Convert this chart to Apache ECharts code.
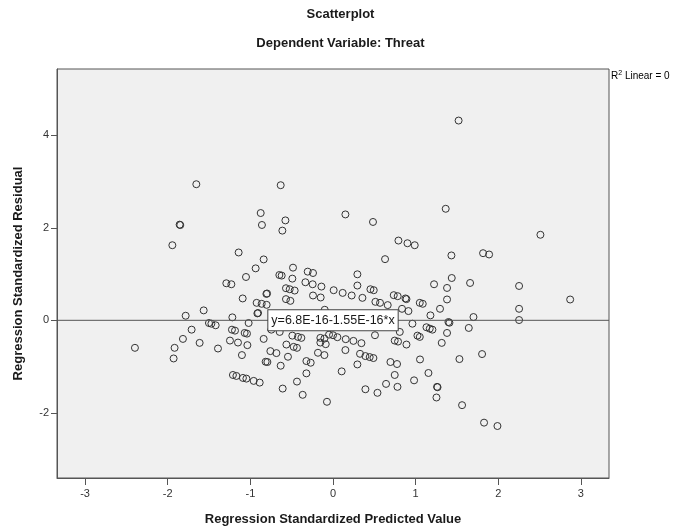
<!DOCTYPE html>
<html>
<head>
<meta charset="utf-8">
<script src="https://cdn.jsdelivr.net/npm/echarts@6/dist/echarts.min.js"></script>
<style>
html,body{margin:0;padding:0;background:#fff;}
#chart{width:681px;height:531px;}
</style>
</head>
<body>
<div id="chart"></div>
<script>
// Regression Standardized Predicted Value (x) and Regression Standardized Residual (y)
const predicted = [
-1.654,-0.633,-0.875,-1.856,-1.848,-0.860,-0.576,-0.613,-1.944,-1.142,
-0.839,-0.936,-0.484,-1.053,-0.649,-0.621,-0.492,-0.306,-0.242,-0.334,
-0.246,-0.140,-1.291,-1.230,-0.569,-0.524,-0.464,-0.242,-0.149,-1.093,
-0.806,-0.798,-0.569,-0.516,-0.924,-0.863,-0.803,-1.565,-1.783,-1.218,
-0.915,-0.907,-0.100,0.150,0.484,1.364,0.792,0.901,0.989,0.630,
1.433,1.816,1.889,0.295,0.295,1.437,1.223,1.380,1.659,2.252,
0.008,0.117,0.226,0.356,0.453,0.493,0.735,0.783,0.877,0.889,
1.050,1.086,1.380,1.295,0.513,0.569,0.662,0.835,0.913,2.252,
1.179,1.700,-1.501,-1.472,-1.420,-1.711,-1.223,-1.186,-1.021,-1.069,
-1.041,-1.816,-1.614,-1.247,-1.150,-1.036,-0.839,-2.397,-1.917,-1.929,
-1.392,-1.102,-0.758,-0.685,-0.815,-0.794,-0.633,-0.545,-0.564,-0.476,
-0.436,-0.492,-0.424,-0.383,-0.322,-0.270,-0.322,-0.436,-0.609,-0.367,
-0.073,-0.182,-0.104,-0.153,-0.088,-0.048,-1.211,-1.169,-1.090,-1.048,
-0.960,-0.887,-0.746,-0.645,0.961,1.397,1.409,1.643,1.131,1.171,
1.203,1.380,0.508,0.808,1.022,1.050,0.747,0.787,0.889,1.316,
0.154,0.247,0.344,0.150,-0.153,-0.104,0.000,0.053,0.327,0.392,
0.444,0.489,0.295,0.105,0.695,0.775,1.053,1.530,1.804,1.155,
0.747,0.981,0.642,0.780,0.392,0.538,1.259,1.265,1.252,1.562,
1.828,1.990,2.252,1.520,2.510,2.870
];
const residual = [
2.943,2.922,2.320,2.069,2.060,2.062,2.161,1.940,1.624,1.467,
1.317,1.124,1.139,0.937,0.980,0.967,0.902,1.053,1.023,0.823,
0.780,0.730,0.801,0.780,0.694,0.672,0.644,0.537,0.494,0.473,
0.571,0.580,0.458,0.421,0.378,0.357,0.335,0.215,0.099,0.064,
0.150,0.158,0.228,2.290,2.127,2.412,1.725,1.667,1.624,1.323,
1.403,1.452,1.424,0.995,0.752,0.915,0.780,0.700,0.808,0.743,
0.651,0.593,0.537,0.486,0.672,0.651,0.544,0.522,0.473,0.458,
0.378,0.357,0.451,0.249,0.400,0.378,0.329,0.249,0.200,0.249,
0.107,0.071,-0.058,-0.073,-0.107,-0.202,-0.202,-0.223,-0.058,-0.273,
-0.288,-0.402,-0.488,-0.438,-0.481,-0.537,-0.402,-0.595,-0.595,-0.825,
-0.610,-0.752,-0.666,-0.709,-0.896,-0.902,-0.982,-0.788,-0.524,-0.574,
-0.595,-0.331,-0.359,-0.380,-0.881,-0.917,-1.147,-1.325,-1.476,-1.611,
-1.762,-0.702,-0.752,-0.481,-0.516,-0.309,-1.182,-1.203,-1.246,-1.261,
-1.310,-1.347,-0.202,-0.251,-0.073,-0.037,-0.052,-0.165,-0.150,-0.180,
-0.202,-0.273,-0.322,-0.251,-0.331,-0.359,-0.438,-0.460,-0.524,-0.488,
-0.408,-0.445,-0.494,-0.644,-0.380,-0.395,-0.322,-0.365,-0.724,-0.773,
-0.795,-0.816,-0.954,-1.104,-0.902,-0.945,-0.846,-0.838,-0.730,-1.139,
-1.182,-1.298,-1.375,-1.439,-1.491,-1.568,-1.439,-1.447,-1.669,-1.835,
-2.213,-2.286,0.006,4.320,1.850,0.450
];
const xTicks = [-3,-2,-1,0,1,2,3];
const yTicks = [-2,0,2,4];
const fitIntercept = 6.8e-16;
const fitSlope = -1.55e-16;
const fitLabel = 'y=6.8E-16-1.55E-16*x';
const r2Label = 'Linear = 0';

const xMin = -3.34, xMax = 3.34, yMin = -3.41, yMax = 5.435;
const FONT = '"Liberation Sans", Arial, sans-serif';

const points = predicted.map((v, i) => [v, residual[i]]);
const fitLine = [[xMin, fitIntercept + fitSlope * xMin], [xMax, fitIntercept + fitSlope * xMax]];

const chart = echarts.init(document.getElementById('chart'), null, {renderer: 'canvas'});
chart.setOption({
  animation: false,
  backgroundColor: '#ffffff',
  title: [
    {text: 'Scatterplot', left: 'center', top: 8, padding: 0,
     textStyle: {fontFamily: FONT, fontSize: 13, fontWeight: 'bold', color: '#1a1a1a'}},
    {text: 'Dependent Variable: Threat', left: 'center', top: 37, padding: 0,
     textStyle: {fontFamily: FONT, fontSize: 13, fontWeight: 'bold', color: '#1a1a1a'}}
  ],
  grid: {left: 57, top: 69, width: 552, height: 412, show: true,
         backgroundColor: '#f0f0f0', borderColor: '#555', borderWidth: 1},
  xAxis: {
    type: 'value', min: xMin, max: xMax,
    name: 'Regression Standardized Predicted Value', nameLocation: 'middle', nameGap: 35,
    nameTextStyle: {fontFamily: FONT, fontSize: 13, fontWeight: 'bold', color: '#1a1a1a'},
    axisLine: {show: true, onZero: false, lineStyle: {color: '#555'}},
    axisTick: {show: true, length: 7, customValues: xTicks, lineStyle: {color: '#555'}},
    axisLabel: {customValues: xTicks, margin: 10, fontFamily: FONT, fontSize: 11, color: '#333'},
    splitLine: {show: false}
  },
  yAxis: {
    type: 'value', min: yMin, max: yMax,
    name: 'Regression Standardized Residual', nameLocation: 'middle', nameGap: 32, nameRotate: 90,
    nameTextStyle: {fontFamily: FONT, fontSize: 13, fontWeight: 'bold', color: '#1a1a1a'},
    axisLine: {show: true, onZero: false, lineStyle: {color: '#555'}},
    axisTick: {show: true, length: 6, customValues: yTicks, lineStyle: {color: '#555'}},
    axisLabel: {customValues: yTicks, margin: 8, fontFamily: FONT, fontSize: 11, color: '#333'},
    splitLine: {show: false}
  },
  series: [
    {
      type: 'scatter', data: points, symbol: 'circle', symbolSize: 7, z: 2,
      itemStyle: {color: 'rgba(0,0,0,0)', borderColor: '#333', borderWidth: 1, opacity: 1},
      silent: true
    },
    {
      type: 'line', data: fitLine, symbol: 'none', z: 3, silent: true,
      lineStyle: {color: '#555', width: 1},
      markPoint: {
        symbol: 'rect', symbolSize: 0, silent: true,
        data: [{coord: [0, fitIntercept]}],
        label: {
          show: true, position: 'inside', formatter: fitLabel,
          fontFamily: FONT, fontSize: 12.5, color: '#1a1a1a',
          backgroundColor: '#ffffff', borderColor: '#444', borderWidth: 1,
          padding: [4, 3, 3, 3]
        }
      }
    }
  ],
  graphic: [
    {type: 'text', left: 611, top: 70, silent: true,
     style: {
       text: '{a|R}{s|2}{a| ' + r2Label + '}',
       rich: {
         a: {fontFamily: FONT, fontSize: 10, color: '#1a1a1a', lineHeight: 12},
         s: {fontFamily: FONT, fontSize: 7, color: '#1a1a1a', verticalAlign: 'top', lineHeight: 12, padding: [0,0,5,0]}
       }
     }}
  ]
});
</script>
</body>
</html>
